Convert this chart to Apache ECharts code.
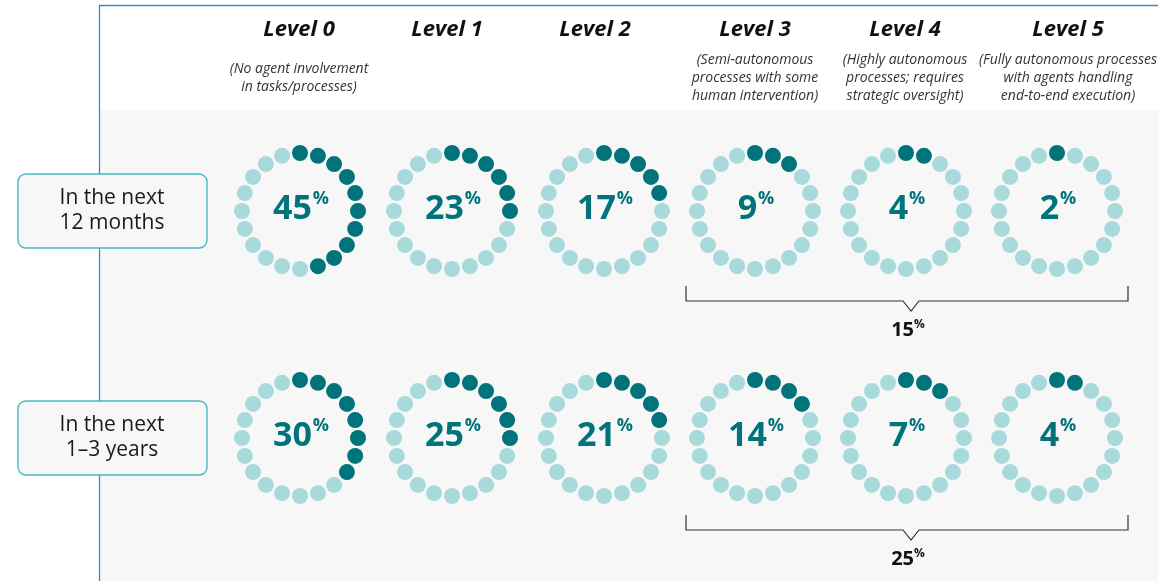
<!DOCTYPE html>
<html>
<head>
<meta charset="utf-8">
<script src="https://cdn.jsdelivr.net/npm/echarts@6/dist/echarts.min.js"></script>
<style>
  html, body { margin: 0; padding: 0; background: #fff; }
  #chart { width: 1158px; height: 581px; }
</style>
</head>
<body>
<div id="chart"></div>
<script>
// Data
const levels = ['Level 0', 'Level 1', 'Level 2', 'Level 3', 'Level 4', 'Level 5']
const levelNotes = [
  '(No agent involvement\nin tasks/processes)',
  '',
  '',
  '(Semi-autonomous\nprocesses with some\nhuman intervention)',
  '(Highly autonomous\nprocesses; requires\nstrategic oversight)',
  '(Fully autonomous processes\nwith agents handling\nend-to-end execution)',
]
const horizons = ['In the next\n12 months', 'In the next\n1–3 years']
const share12m = [45, 23, 17, 9, 4, 2]
const share1to3y = [30, 25, 21, 14, 7, 4]
// dark dots drawn in each ring (out of 20), counted on the picture
const filled12m = [10, 6, 5, 3, 2, 1]
const filled1to3y = [8, 6, 5, 4, 3, 2]
const level3to5Total = [15, 25]
const DOTS = 20

// Layout
const colX = [300, 452, 604, 755, 906, 1057]
const headX = [299, 447, 595, 755, 905, 1068]
const rowY = [211, 438]
const RING_R = 58
const DARK = '#00747a'
const LIGHT = '#a8dadc'
const FONT = '"Open Sans", "Noto Sans", sans-serif'

const shares = [share12m, share1to3y]
const filled = [filled12m, filled1to3y]

const polar = []
const angleAxis = []
const radiusAxis = []
const series = []

rowY.forEach((y, r) => {
  colX.forEach((x, c) => {
    const k = polar.length
    polar.push({ center: [x, y], radius: RING_R })
    angleAxis.push({ polarIndex: k, type: 'value', min: 0, max: 360, startAngle: 90, clockwise: true, show: false })
    radiusAxis.push({ polarIndex: k, type: 'value', min: 0, max: 1, show: false })

    const dots = []
    for (let i = 0; i < DOTS; i++) {
      dots.push({
        value: [1, (i * 360) / DOTS],
        itemStyle: { color: i < filled[r][c] ? DARK : LIGHT, opacity: 1 },
      })
    }
    series.push({
      type: 'scatter',
      coordinateSystem: 'polar',
      polarIndex: k,
      symbolSize: 16,
      silent: true,
      itemStyle: { opacity: 1 },
      data: dots,
    })
    series.push({
      type: 'scatter',
      coordinateSystem: 'polar',
      polarIndex: k,
      symbolSize: 1,
      itemStyle: { color: 'transparent', opacity: 1 },
      silent: true,
      data: [[0, 0]],
      label: {
        show: true,
        position: 'inside',
        offset: [1, -2],
        opacity: 1,
        formatter: '{n|' + shares[r][c] + '}{p|%}',
        rich: {
          n: { fontFamily: FONT, fontSize: 34, fontWeight: 'bold', color: DARK, lineHeight: 38 },
          p: { fontFamily: FONT, fontSize: 18, fontWeight: 'bold', color: DARK, lineHeight: 22, verticalAlign: 'top', padding: [0, 0, 0, 1] },
        },
      },
    })
  })
})

// Decorations: frame, header, row boxes, brackets
const graphic = [
  { type: 'rect', shape: { x: 100, y: 110, width: 1058, height: 471 }, style: { fill: '#f7f7f7' }, silent: true, z: -10 },
  { type: 'line', shape: { x1: 99.5, y1: 5, x2: 99.5, y2: 581 }, style: { stroke: '#3f88c5', lineWidth: 1.3 }, silent: true, z: -5 },
  { type: 'line', shape: { x1: 99, y1: 5.5, x2: 1158, y2: 5.5 }, style: { stroke: '#3f88c5', lineWidth: 1.3 }, silent: true, z: -5 },
]

levels.forEach((name, c) => {
  graphic.push({
    type: 'text',
    x: headX[c],
    y: 30,
    style: { text: name, font: 'italic bold 22px ' + FONT, fill: '#111', align: 'center', verticalAlign: 'middle' },
    silent: true,
  })
  if (levelNotes[c]) {
    graphic.push({
      type: 'text',
      x: headX[c],
      y: 78,
      style: { text: levelNotes[c], font: 'italic 14px ' + FONT, fill: '#333', align: 'center', verticalAlign: 'middle', lineHeight: 18 },
      silent: true,
    })
  }
})

horizons.forEach((txt, r) => {
  graphic.push({
    type: 'rect',
    shape: { x: 18, y: rowY[r] - 37, width: 189, height: 74, r: 8 },
    style: { fill: '#f7f7f7', stroke: '#46b9c4', lineWidth: 1.4 },
    silent: true,
  })
  graphic.push({
    type: 'text',
    x: 112,
    y: rowY[r],
    style: { text: txt, font: '21px ' + FONT, fill: '#1a1a1a', align: 'center', verticalAlign: 'middle', lineHeight: 25 },
    silent: true,
  })
})

const bracketTop = [286, 515]
level3to5Total.forEach((v, r) => {
  const t = bracketTop[r]
  const h = t + 15
  const mid = 911
  graphic.push({
    type: 'polyline',
    shape: { points: [[686, t], [686, h], [mid - 8, h], [mid, h + 10], [mid + 8, h], [1128, h], [1128, t]] },
    style: { stroke: '#333', lineWidth: 1.2, fill: null },
    silent: true,
  })
  graphic.push({
    type: 'text',
    x: mid - 3,
    y: h + 29,
    style: {
      text: '{n|' + v + '}{p|%}',
      align: 'center',
      verticalAlign: 'middle',
      rich: {
        n: { fontFamily: FONT, fontSize: 20, fontWeight: 'bold', fill: '#111', lineHeight: 22 },
        p: { fontFamily: FONT, fontSize: 12, fontWeight: 'bold', fill: '#111', lineHeight: 12, verticalAlign: 'top' },
      },
    },
    silent: true,
  })
})

const chart = echarts.init(document.getElementById('chart'), null, { renderer: 'canvas' })
chart.setOption({
  animation: false,
  backgroundColor: '#fff',
  polar,
  angleAxis,
  radiusAxis,
  series,
  graphic,
})
</script>
</body>
</html>
